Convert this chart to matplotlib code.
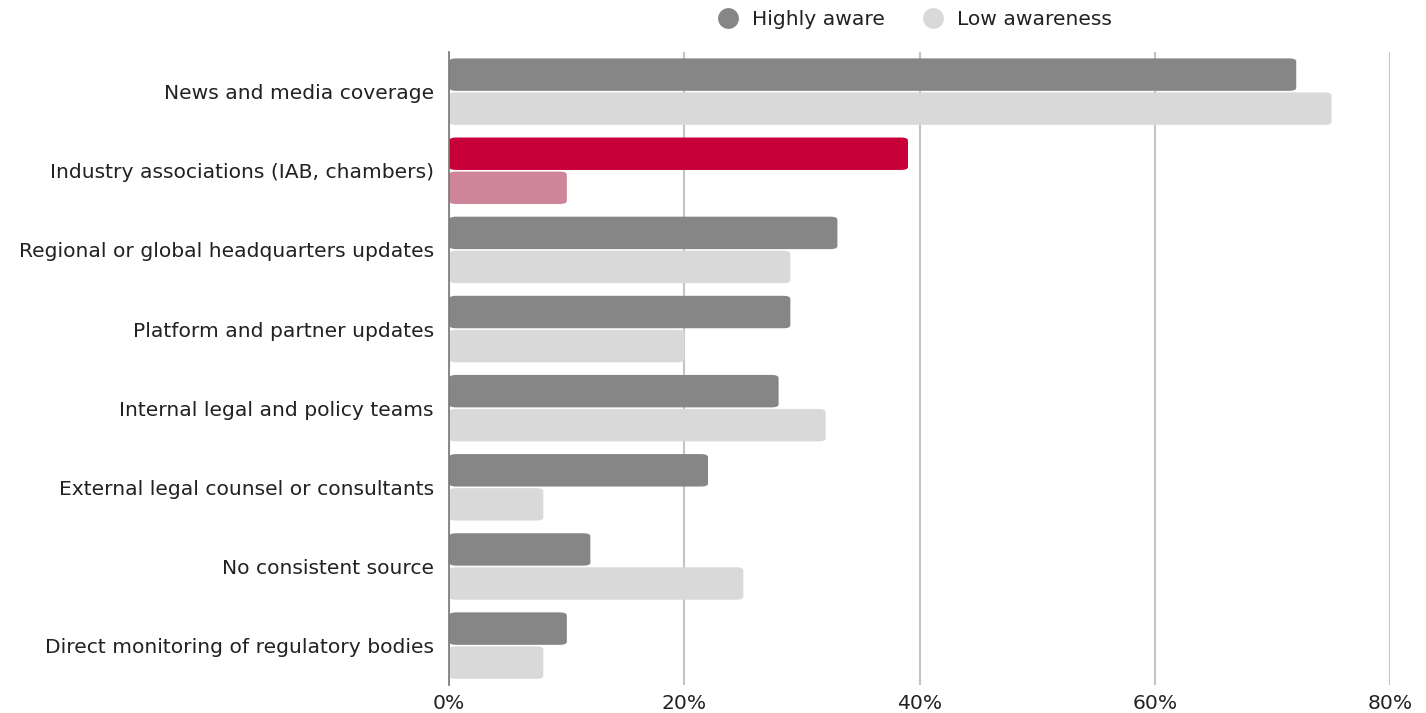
import matplotlib.pyplot as plt
from matplotlib.patches import FancyBboxPatch
from matplotlib.lines import Line2D
from matplotlib.ticker import PercentFormatter
import numpy as np

plt.rcParams['font.family'] = ['DejaVu Sans']

# Datos
categories = [
    'News and media coverage',
    'Industry associations (IAB, chambers)',
    'Regional or global headquarters updates',
    'Platform and partner updates',
    'Internal legal and policy teams',
    'External legal counsel or consultants',
    'No consistent source',
    'Direct monitoring of regulatory bodies',
]
highly_aware = [72, 39, 33, 29, 28, 22, 12, 10]
low_awareness = [75, 10, 29, 20, 32, 8, 25, 8]
highlight_idx = 1

GRAY_DARK = '#868686'
GRAY_LIGHT = '#d9d9d9'
RED_DARK = '#c8003a'
RED_LIGHT = '#cf8599'
FS = 14.6

fig = plt.figure(figsize=(14.26, 7.13), dpi=100)
ax = fig.add_axes([0.315, 0.039, 0.66, 0.888])

y = np.arange(len(categories))
h = 0.41
off = 0.215

c_high = [RED_DARK if i == highlight_idx else GRAY_DARK for i in range(len(categories))]
c_low = [RED_LIGHT if i == highlight_idx else GRAY_LIGHT for i in range(len(categories))]

bars_hi = ax.barh(y - off, highly_aware, height=h, color=c_high)
bars_lo = ax.barh(y + off, low_awareness, height=h, color=c_low)

# Reemplazar barras por rectángulos con esquinas redondeadas
for bar in list(bars_hi) + list(bars_lo):
    x0, y0 = bar.get_x(), bar.get_y()
    w, hh = bar.get_width(), bar.get_height()
    fancy = FancyBboxPatch((x0, y0), w, hh,
                           boxstyle='round,pad=0,rounding_size=0.6',
                           mutation_aspect=0.065,
                           facecolor=bar.get_facecolor(), edgecolor='none', zorder=3)
    bar.set_visible(False)
    ax.add_patch(fancy)

ax.set_xlim(0, 80)
ax.set_ylim(len(categories) - 0.5, -0.5)
ax.set_xticks([0, 20, 40, 60, 80])
ax.xaxis.set_major_formatter(PercentFormatter(decimals=0))
ax.set_yticks(y)
ax.set_yticklabels(categories)
ax.tick_params(axis='both', length=0, labelsize=FS, colors='#222222')
ax.tick_params(axis='y', pad=11)
ax.tick_params(axis='x', pad=6)

for s in ['top', 'right', 'bottom']:
    ax.spines[s].set_visible(False)
ax.spines['left'].set_color('#777777')
ax.spines['left'].set_linewidth(1.2)
ax.spines['left'].set_zorder(4)

ax.grid(axis='x', color='#c4c4c4', linewidth=1.5, zorder=0)
ax.set_axisbelow(True)

handles = [
    Line2D([], [], marker='o', linestyle='none', markersize=15,
           markerfacecolor=GRAY_DARK, markeredgecolor='none', label='Highly aware'),
    Line2D([], [], marker='o', linestyle='none', markersize=15,
           markerfacecolor=GRAY_LIGHT, markeredgecolor='none', label='Low awareness'),
]
fig.legend(handles=handles, loc='center', bbox_to_anchor=(0.638, 0.972), ncol=2,
           frameon=False, fontsize=FS, handletextpad=0.2, columnspacing=1.35,
           labelcolor='#222222')

fig.savefig('out.png', dpi=100)
